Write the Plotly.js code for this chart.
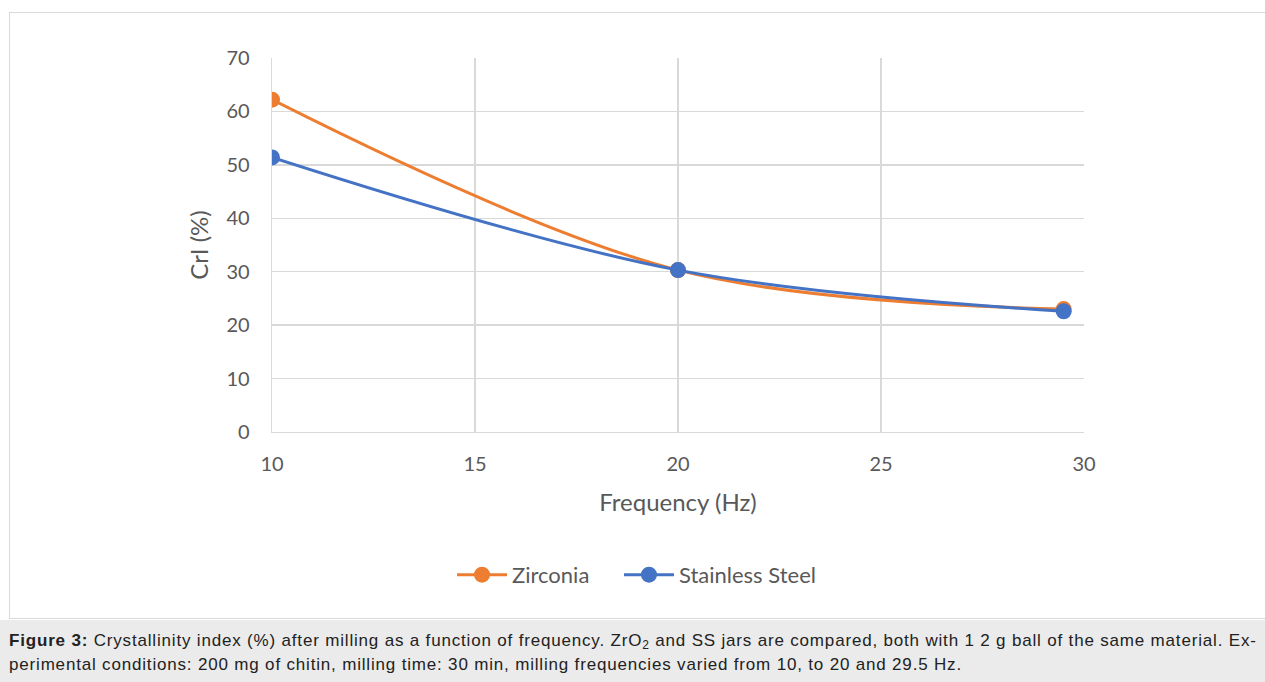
<!DOCTYPE html>
<html>
<head>
<meta charset="utf-8">
<script src="https://cdn.plot.ly/plotly-3.0.1.min.js"></script>
<style>
  html, body { margin: 0; padding: 0; background: #ffffff; }
  body { width: 1265px; height: 682px; position: relative; overflow: hidden; }
  #frame { position: absolute; left: 9px; top: 12px; width: 1262px; height: 607px; border: 1px solid #d9d9d9; box-sizing: border-box; }
  #chart { position: absolute; left: 0; top: 0; width: 1265px; height: 682px; }
  #caption { position: absolute; left: 0; top: 620px; width: 1265px; height: 62px; background: #ebebeb;
             font-family: "Liberation Sans", Arial, sans-serif; font-size: 17px; letter-spacing: 0.82px; color: #222222;
             line-height: 24px; padding: 9px 0 0 9px; box-sizing: border-box; white-space: nowrap; }
  #caption sub { font-size: 12px; vertical-align: -3px; line-height: 0; }
</style>
</head>
<body>
<div id="frame"></div>
<div id="chart"></div>
<div id="caption"><b>Figure 3:</b> Crystallinity index (%) after milling as a function of frequency. ZrO<sub>2</sub> and SS jars are compared, both with 1 2 g ball of the same material. Ex-<br>perimental conditions: 200 mg of chitin, milling time: 30 min, milling frequencies varied from 10, to 20 and 29.5 Hz.</div>
<script>
const frequency = [10, 20, 29.5];
const zirconia = [62.2, 30.3, 23.0];
const stainlessSteel = [51.4, 30.3, 22.6];
const seriesNames = ["Zirconia", "Stainless Steel"];
const xTicks = [10, 15, 20, 25, 30];
const yTicks = [0, 10, 20, 30, 40, 50, 60, 70];

const font = "Lato, 'Open Sans', sans-serif";
const traces = [
  { x: frequency, y: zirconia, name: seriesNames[0], type: "scatter", mode: "lines+markers",
    line: { color: "#ED7D31", width: 3, shape: "spline", smoothing: 1 },
    marker: { color: "#ED7D31", size: 16 }, legend: "legend" },
  { x: frequency, y: stainlessSteel, name: seriesNames[1], type: "scatter", mode: "lines+markers",
    line: { color: "#4472C4", width: 3, shape: "spline", smoothing: 1 },
    marker: { color: "#4472C4", size: 16 }, legend: "legend2" }
];

const legendStyle = {
  orientation: "h", xanchor: "left", y: -0.382, yanchor: "middle",
  font: { family: font, size: 22, color: "#595959" }, itemwidth: 50, bgcolor: "rgba(0,0,0,0)"
};

const layout = {
  width: 1265, height: 682,
  paper_bgcolor: "rgba(0,0,0,0)", plot_bgcolor: "rgba(0,0,0,0)",
  margin: { l: 272, r: 181, t: 58, b: 250 },
  font: { family: font, color: "#595959", size: 20 },
  showlegend: true,
  legend: Object.assign({}, legendStyle, { x: 0.2217 }),
  legend2: Object.assign({}, legendStyle, { x: 0.4273 }),
  xaxis: {
    range: [10, 30], tickvals: xTicks, ticktext: xTicks.map(String),
    showgrid: true, gridcolor: "#d9d9d9", gridwidth: 1.3,
    showline: true, linecolor: "#d9d9d9", linewidth: 1.3, zeroline: false,
    ticks: "", ticklabelstandoff: 14,
    tickfont: { family: font, size: 20, color: "#595959" },
    title: { text: "Frequency (Hz)", font: { family: font, size: 24, color: "#595959" }, standoff: 20 }
  },
  yaxis: {
    range: [0, 70], tickvals: yTicks, ticktext: yTicks.map(String),
    showgrid: true, gridcolor: "#d9d9d9", gridwidth: 1.3,
    showline: true, linecolor: "#d9d9d9", linewidth: 1.3, zeroline: false,
    ticks: "", ticklabelstandoff: 17,
    tickfont: { family: font, size: 20, color: "#595959" },
    title: { text: "CrI (%)", font: { family: font, size: 24, color: "#595959" }, standoff: 11 }
  }
};

Plotly.newPlot("chart", traces, layout, { staticPlot: true, displayModeBar: false });
</script>
</body>
</html>
